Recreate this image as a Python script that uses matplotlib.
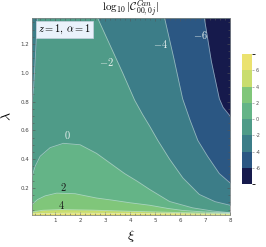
import numpy as np
import matplotlib
matplotlib.use('Agg')
import matplotlib.pyplot as plt
from matplotlib.colors import ListedColormap, BoundaryNorm
from matplotlib.cm import ScalarMappable
from matplotlib.ticker import MultipleLocator, FormatStrFormatter

plt.rcParams['mathtext.fontset'] = 'cm'

# contour levels and band colours (low -> high)
levels = [-8, -6, -4, -2, 0, 2, 4, 6, 8]
band_colors = ['#161a4c', '#2b5783', '#3c7d88', '#4f9b88',
               '#64b487', '#80c67a', '#c9dd6e', '#ebe26f']

# contour curves (xi, lambda)
xi_p0 = [0.06, 0.2, 0.4, 0.8, 1.33, 2.0, 2.66, 3.3, 3.78, 4.3, 4.78, 5.58, 6.5, 7.3, 8.0]
lam_p0 = [0.27, 0.35, 0.42, 0.48, 0.51, 0.50, 0.44, 0.36, 0.30, 0.245, 0.19, 0.106, 0.062, 0.04, 0.028]

xi_p2 = [0.06, 0.3, 0.6, 1.06, 1.8, 2.66, 3.3, 4.0, 4.78, 5.5, 6.1, 7.0, 8.0]
lam_p2 = [0.083, 0.12, 0.145, 0.164, 0.16, 0.13, 0.115, 0.097, 0.08, 0.058, 0.044, 0.033, 0.026]

xi_p4 = [0.06, 0.5, 1.2, 2.5, 4.0, 6.0, 8.0]
lam_p4 = [0.032, 0.045, 0.05, 0.046, 0.038, 0.029, 0.022]

xi_p6 = [0.06, 1.5, 4.0, 8.0]
lam_p6 = [0.021, 0.025, 0.023, 0.018]

xi_m2 = [2.7, 3.2, 3.7, 4.18, 4.5, 4.78, 5.11, 5.58, 6.11, 6.77, 7.4, 8.0]
lam_m2 = [1.38, 1.19, 1.0, 0.81, 0.71, 0.63, 0.53, 0.40, 0.27, 0.155, 0.105, 0.08]

xi_m2_left = [0.29, 0.22, 0.14, 0.06]
lam_m2_left = [1.38, 1.15, 0.90, 0.76]

xi_m4 = [5.38, 5.75, 6.1, 6.4, 6.71, 7.1, 7.57, 8.0]
lam_m4 = [1.38, 1.1, 0.82, 0.67, 0.53, 0.42, 0.30, 0.235]

xi_m6 = [6.97, 7.25, 7.57, 7.72, 8.0]
lam_m6 = [1.38, 1.08, 0.82, 0.76, 0.70]

xmin, xmax = 0.06, 8.0
ymin, ymax = 0.013, 1.38

fig = plt.figure(figsize=(2.66, 2.47), dpi=100)
ax = fig.add_axes([0.119, 0.130, 0.746, 0.797])

# base band (-2, 0)
ax.axhspan(ymin, ymax, color=band_colors[3], lw=0)

# upper bands, filled below their curves
ax.fill_between(xi_p0, ymin, lam_p0, color=band_colors[4], lw=0)
ax.fill_between(xi_p2, ymin, lam_p2, color=band_colors[5], lw=0)
ax.fill_between(xi_p4, ymin, lam_p4, color=band_colors[6], lw=0)
ax.fill_between(xi_p6, ymin, lam_p6, color=band_colors[7], lw=0)

# lower bands, filled right of their curves
ax.fill_betweenx(lam_m2, xi_m2, xmax, color=band_colors[2], lw=0)
ax.fill_betweenx(lam_m2_left, xmin, xi_m2_left, color=band_colors[2], lw=0)
ax.fill_betweenx(lam_m4, xi_m4, xmax, color=band_colors[1], lw=0)
ax.fill_betweenx(lam_m6, xi_m6, xmax, color=band_colors[0], lw=0)

line_kw = dict(color='white', alpha=0.45, lw=0.6)
for xs, ys in [(xi_p0, lam_p0), (xi_p2, lam_p2), (xi_p4, lam_p4), (xi_p6, lam_p6),
               (xi_m2, lam_m2), (xi_m2_left, lam_m2_left), (xi_m4, lam_m4), (xi_m6, lam_m6)]:
    ax.plot(xs, ys, **line_kw)

# contour labels
lab_kw = dict(fontsize=7.5, ha='center', va='center')
ax.text(3.07, 1.075, r'$-2$', color='#e8f0ee', **lab_kw)
ax.text(5.2, 1.20, r'$-4$', color='#e8f0ee', **lab_kw)
ax.text(6.8, 1.26, r'$-6$', color='#e8f0ee', **lab_kw)
ax.text(1.49, 0.565, r'$0$', color='#e8f0ee', **lab_kw)
ax.text(1.33, 0.206, r'$2$', color='#1a1a1a', **lab_kw)
ax.text(1.26, 0.083, r'$4$', color='#1a1a1a', **lab_kw)

ax.text(0.03, 0.975, r'$z=1,\,\alpha=1$', transform=ax.transAxes, fontsize=7.5,
        ha='left', va='top',
        bbox=dict(boxstyle='square,pad=0.2', facecolor='#eaf2fb', edgecolor='#c5d2de', lw=0.5))

ax.set_xlim(xmin, xmax)
ax.set_ylim(ymin, ymax)
ax.set_title(r'$\log_{10}|\mathcal{C}^{Can}_{00,0j}|$', fontsize=8, pad=0.5)
ax.set_xlabel(r'$\xi$', fontsize=10, labelpad=4)
ax.set_ylabel(r'$\lambda$', fontsize=10, labelpad=4)

ax.xaxis.set_major_locator(MultipleLocator(1))
ax.xaxis.set_minor_locator(MultipleLocator(0.2))
ax.yaxis.set_major_locator(MultipleLocator(0.2))
ax.yaxis.set_minor_locator(MultipleLocator(0.05))
ax.yaxis.set_major_formatter(FormatStrFormatter('%.1f'))
ax.tick_params(which='both', direction='in', top=True, right=True,
               labelsize=4, labelcolor='#444444', color='#555555', width=0.4, pad=2)
ax.tick_params(which='major', length=2.5)
ax.tick_params(which='minor', length=1.2)
for s in ax.spines.values():
    s.set_linewidth(0.5)
    s.set_color('#888888')

# colorbar
cax = fig.add_axes([0.910, 0.255, 0.037, 0.526])
cmap = ListedColormap(band_colors)
norm = BoundaryNorm(levels, cmap.N)
cb = fig.colorbar(ScalarMappable(norm=norm, cmap=cmap), cax=cax, ticks=[-6, -4, -2, 0, 2, 4, 6])
cb.outline.set_visible(False)
cb.ax.tick_params(labelsize=3.5, labelcolor='#555555', color='#777777', length=1.5, width=0.4, pad=1)
cb.ax.set_yticklabels(['-6', '-4', '-2', '0', '2', '4', '6'])

fig.savefig('out.png', dpi=100)
